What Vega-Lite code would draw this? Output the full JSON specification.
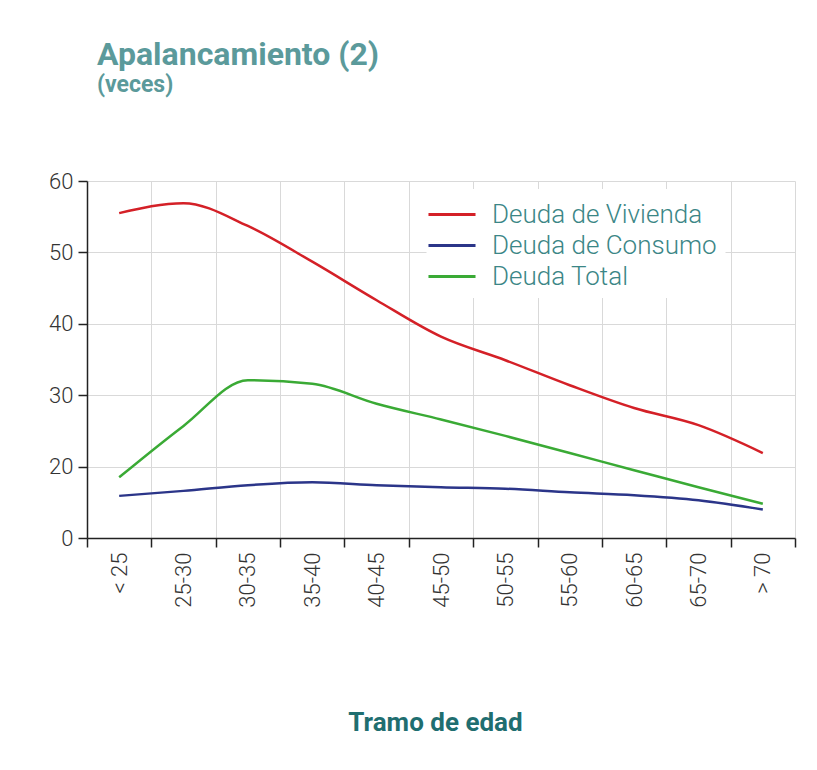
{
  "$schema": "https://vega.github.io/schema/vega-lite/v6.json",
  "width": 708,
  "height": 357,
  "autosize": {"type": "none"},
  "padding": {"left": 87, "top": 181, "right": 22, "bottom": 232},
  "background": "white",
  "title": {
    "text": "Apalancamiento (2)",
    "subtitle": "(veces)",
    "anchor": "start",
    "frame": "group",
    "dx": 10,
    "offset": 72,
    "font": "Roboto",
    "fontSize": 32,
    "fontWeight": "bold",
    "color": "#5b9a9b",
    "subtitleFont": "Roboto",
    "subtitleFontSize": 23,
    "subtitleFontWeight": "bold",
    "subtitleColor": "#5b9a9b",
    "subtitlePadding": 2
  },
  "config": {
    "view": {"stroke": null},
    "font": "Roboto"
  },
  "data": {
    "values": [
      {"tramo": "< 25", "serie": "Deuda de Vivienda", "valor": 55.5},
      {"tramo": "25-30", "serie": "Deuda de Vivienda", "valor": 56.9},
      {"tramo": "30-35", "serie": "Deuda de Vivienda", "valor": 53.7},
      {"tramo": "35-40", "serie": "Deuda de Vivienda", "valor": 48.7},
      {"tramo": "40-45", "serie": "Deuda de Vivienda", "valor": 43.3},
      {"tramo": "45-50", "serie": "Deuda de Vivienda", "valor": 38.2},
      {"tramo": "50-55", "serie": "Deuda de Vivienda", "valor": 34.9},
      {"tramo": "55-60", "serie": "Deuda de Vivienda", "valor": 31.4},
      {"tramo": "60-65", "serie": "Deuda de Vivienda", "valor": 28.2},
      {"tramo": "65-70", "serie": "Deuda de Vivienda", "valor": 25.8},
      {"tramo": "> 70", "serie": "Deuda de Vivienda", "valor": 21.9},
      {"tramo": "< 25", "serie": "Deuda de Consumo", "valor": 15.9},
      {"tramo": "25-30", "serie": "Deuda de Consumo", "valor": 16.6},
      {"tramo": "30-35", "serie": "Deuda de Consumo", "valor": 17.4},
      {"tramo": "35-40", "serie": "Deuda de Consumo", "valor": 17.8},
      {"tramo": "40-45", "serie": "Deuda de Consumo", "valor": 17.4},
      {"tramo": "45-50", "serie": "Deuda de Consumo", "valor": 17.1},
      {"tramo": "50-55", "serie": "Deuda de Consumo", "valor": 16.9},
      {"tramo": "55-60", "serie": "Deuda de Consumo", "valor": 16.4},
      {"tramo": "60-65", "serie": "Deuda de Consumo", "valor": 16.0},
      {"tramo": "65-70", "serie": "Deuda de Consumo", "valor": 15.3},
      {"tramo": "> 70", "serie": "Deuda de Consumo", "valor": 14.0},
      {"tramo": "< 25", "serie": "Deuda Total", "valor": 18.5},
      {"tramo": "25-30", "serie": "Deuda Total", "valor": 25.7},
      {"tramo": "30-35", "serie": "Deuda Total", "valor": 32.1},
      {"tramo": "35-40", "serie": "Deuda Total", "valor": 31.6},
      {"tramo": "40-45", "serie": "Deuda Total", "valor": 28.8},
      {"tramo": "45-50", "serie": "Deuda Total", "valor": 26.6},
      {"tramo": "50-55", "serie": "Deuda Total", "valor": 24.3},
      {"tramo": "55-60", "serie": "Deuda Total", "valor": 21.9},
      {"tramo": "60-65", "serie": "Deuda Total", "valor": 19.5},
      {"tramo": "65-70", "serie": "Deuda Total", "valor": 17.1},
      {"tramo": "> 70", "serie": "Deuda Total", "valor": 14.8}
    ]
  },
  "mark": {"type": "line", "interpolate": "monotone", "strokeWidth": 2.5},
  "encoding": {
    "x": {
      "field": "tramo",
      "type": "nominal",
      "sort": ["< 25", "25-30", "30-35", "35-40", "40-45", "45-50", "50-55", "55-60", "60-65", "65-70", "> 70"],
      "scale": {"type": "band", "paddingInner": 0, "paddingOuter": 0},
      "axis": {
        "title": "Tramo de edad",
        "titleFont": "Roboto",
        "titleFontSize": 26,
        "titleFontWeight": "bold",
        "titleColor": "#1f6e70",
        "titleBaseline": "middle",
        "titleAlign": "center",
        "titleX": 348,
        "titleY": 184,
        "tickBand": "extent",
        "grid": true,
        "gridColor": "#d9d9d9",
        "gridWidth": 1,
        "domainColor": "#222222",
        "domainWidth": 1.5,
        "tickColor": "#222222",
        "tickWidth": 1.5,
        "tickSize": 9,
        "labelAngle": 270,
        "labelAlign": "right",
        "labelBaseline": "middle",
        "labelPadding": 5,
        "labelFont": "Roboto",
        "labelFontWeight": 300,
        "labelFontSize": 22,
        "labelColor": "#333333"
      }
    },
    "y": {
      "field": "valor",
      "type": "quantitative",
      "scale": {"domain": [10, 60], "nice": false, "zero": false},
      "axis": {
        "title": null,
        "values": [10, 20, 30, 40, 50, 60],
        "labelExpr": "datum.value == 10 ? '0' : datum.label",
        "grid": true,
        "gridColor": "#d9d9d9",
        "gridWidth": 1,
        "domainColor": "#222222",
        "domainWidth": 1.5,
        "tickColor": "#222222",
        "tickWidth": 1.5,
        "tickSize": 9,
        "labelPadding": 5,
        "labelFont": "Roboto",
        "labelFontWeight": 300,
        "labelFontSize": 22,
        "labelColor": "#333333"
      }
    },
    "color": {
      "field": "serie",
      "type": "nominal",
      "scale": {
        "domain": ["Deuda de Vivienda", "Deuda de Consumo", "Deuda Total"],
        "range": ["#d42027", "#2b3589", "#3aaa35"]
      },
      "legend": {
        "title": null,
        "orient": "none",
        "legendX": 339.5,
        "legendY": 8,
        "padding": 8,
        "fillColor": "white",
        "symbolType": "M-1.47,0H1.47",
        "symbolSize": 1024,
        "symbolStrokeWidth": 3,
        "labelOffset": 22.5,
        "labelFont": "Roboto",
        "labelFontWeight": 300,
        "labelFontSize": 26,
        "labelColor": "#3b8686",
        "rowPadding": 0,
        "labelLimit": 400
      }
    }
  }
}
